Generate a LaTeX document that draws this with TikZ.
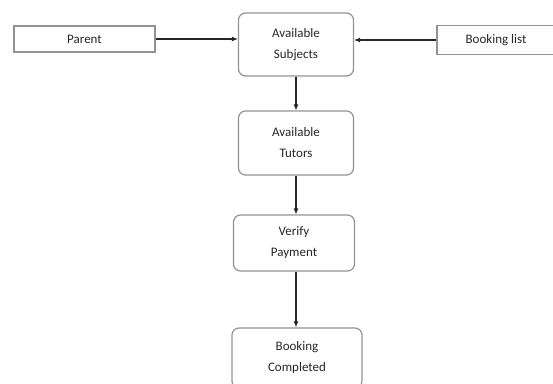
\documentclass[tikz,border=0pt]{standalone}
\usepackage{fontspec}
\setmainfont{Carlito}
\usepackage{tikz}
\usetikzlibrary{arrows.meta}

\begin{document}
\begin{tikzpicture}
  [x=1pt,y=-1pt,
   every node/.style={draw=gray!85,line width=1.2pt,font=\fontsize{13}{21}\selectfont,
                      text=black!85,align=center,inner sep=0pt},
   stepbox/.style={rounded corners=7pt},
   flatbox/.style={},
   arr/.style={-{Latex[length=6pt,width=5pt]},line width=1.1pt,black!85}]
  \useasboundingbox (0,0) rectangle (553,383);
  \node[flatbox,minimum width=141pt,minimum height=26pt] (parent) at (84.5,39) {Parent};
  \node[stepbox,minimum width=115pt,minimum height=63pt] (subjects) at (296,44.5) {Available\\Subjects};
  \node[flatbox,minimum width=118pt,minimum height=29pt] (booking) at (496,40) {Booking list};
  \node[stepbox,minimum width=115pt,minimum height=64pt] (tutors) at (296,143) {Available\\Tutors};
  \node[stepbox,minimum width=121pt,minimum height=56pt] (verify) at (294,243) {Verify\\Payment};
  \node[stepbox,minimum width=130pt,minimum height=60pt] (completed) at (297,358) {Booking\\Completed};

  \draw[arr] (parent.east) -- (parent.east -| subjects.west);
  \draw[arr] (booking.west) -- (booking.west -| subjects.east);

  \foreach \from/\to in {subjects/tutors,tutors/verify,verify/completed}
    \draw[arr] (\from.south -| subjects) -- (\to.north -| subjects);

\end{tikzpicture}
\end{document}
